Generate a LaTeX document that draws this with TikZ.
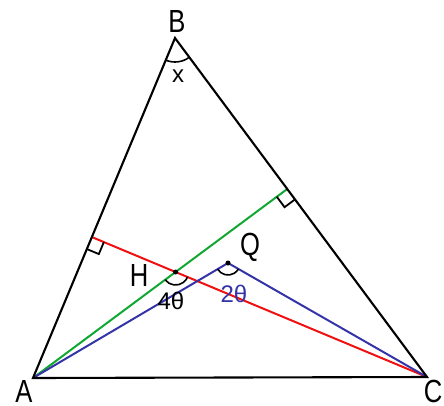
\documentclass[tikz,border=0pt]{standalone}
\usepackage{fontspec}
\setmainfont{Liberation Sans}
\usepackage{tikz}
\usetikzlibrary{calc,angles}
\definecolor{redline}{HTML}{F01010}
\definecolor{greenline}{HTML}{10A830}
\definecolor{blueline}{HTML}{3434A8}
\tikzset{
  side/.style    ={draw=black, line width=2.1pt, line join=miter},
  alt/.style     ={draw=#1, line width=2pt},
  cev/.style     ={draw=blueline, line width=2pt},
  rtmark/.style  ={draw=black, line width=1.8pt},
  arcmark/.style ={draw=black, line width=1.6pt},
  ptlbl/.style   ={font=\fontsize{32}{32}\selectfont, inner sep=0pt, xscale=0.8},
  anglbl/.style  ={font=\fontsize{24}{24}\selectfont, inner sep=0pt},
  dotpt/.style   ={circle, fill=black, inner sep=0pt, minimum size=5pt},
}
\begin{document}
\begin{tikzpicture}[x=1pt, y=-1pt]
\useasboundingbox (0,0) rectangle (444,405);
% ---- vertices
\coordinate (A) at (33,378);
\coordinate (B) at (175,38);
\coordinate (C) at (427,377);
\coordinate (Q) at (228,263);
% ---- feet of the altitudes and orthocentre
\coordinate (Fa) at ($(B)!(A)!(C)$);
\coordinate (Fc) at ($(A)!(C)!(B)$);
\coordinate (H) at (intersection of A--Fa and C--Fc);

% ---- altitudes
\draw[alt=greenline] (A) -- (Fa);
\draw[alt=redline] (C) -- (Fc);

% ---- lines to Q
\draw[cev] (A) -- (Q) -- (C);

% ---- right angle marks
\draw[rtmark] ($(Fc)!13pt!(A)$) -- ($(Fc)!13pt!(A)!13pt!90:(A)$) -- ($(Fc)!13pt!(C)$);
\draw[rtmark] ($(Fa)!13pt!(C)$) -- ($(Fa)!13pt!(C)!13pt!-90:(C)$) -- ($(Fa)!13pt!(A)$);

% ---- angle arcs
\pic[arcmark, angle radius=24pt] {angle = A--B--C};
\pic[arcmark, angle radius=13pt] {angle = A--H--C};
\pic[arcmark, angle radius=12pt] {angle = A--Q--C};

% ---- triangle
\draw[side] (A) -- (B) -- (C) -- cycle;

% ---- points
\node[dotpt] (Hdot) at (H) {};
\node[dotpt] (Qdot) at (Q) {};

% ---- labels
\node[ptlbl] (lB) at (177,21) {B};
\node[anglbl] (lx) at (178,76) {x};
\node[ptlbl] (lH) at (139,275) {H};
\node[anglbl] (l4) at (171,301) {4θ};
\node[ptlbl] (lQ) at (250,247) {Q};
\node[anglbl, text=blueline] (l2) at (234,294) {2θ};
\node[ptlbl] (lA) at (24,391) {A};
\node[ptlbl] (lC) at (433,391) {C};
\end{tikzpicture}
\end{document}
